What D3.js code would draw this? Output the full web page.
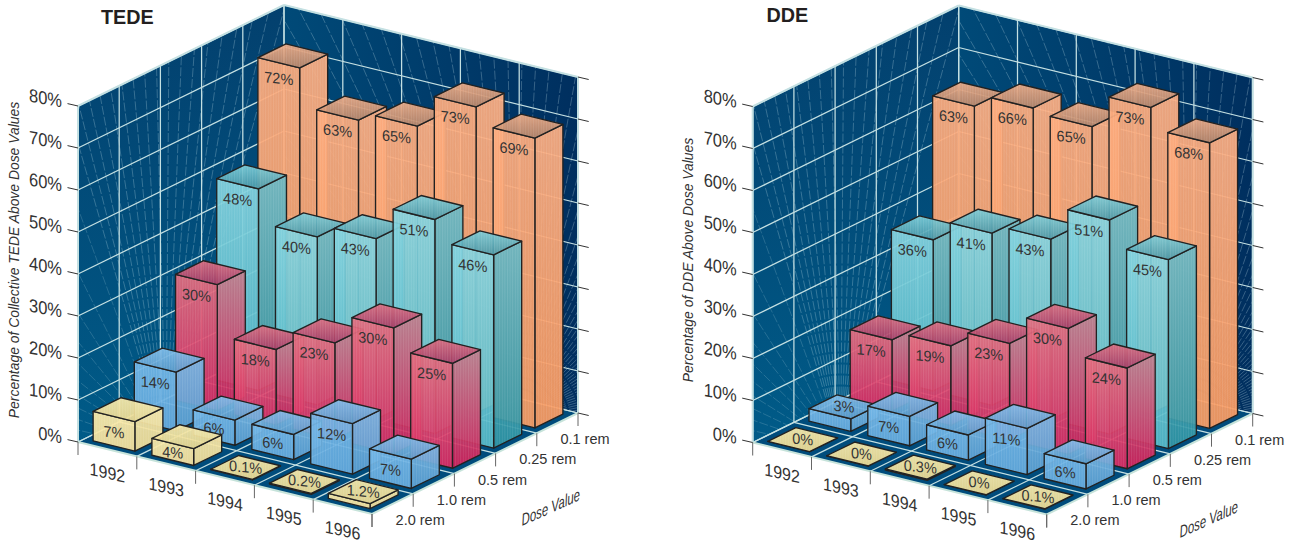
<!DOCTYPE html>
<html>
<head>
<meta charset="utf-8">
<script src="https://cdn.jsdelivr.net/npm/d3@7"></script>
<style>
  body { margin: 0; background: #fff; }
  text { font-family: "Liberation Sans", Arial, sans-serif; fill: #333; }
</style>
</head>
<body>
<div id="chart"></div>
<script>
const years = ["1992", "1993", "1994", "1995", "1996"];
// front of the floor to the back
const doses = ["2.0 rem", "1.0 rem", "0.5 rem", "0.25 rem", "0.1 rem"];
const valueTicks = [0, 10, 20, 30, 40, 50, 60, 70, 80];

const tedeRem20 = [7, 4, 0.1, 0.2, 1.2];
const tedeRem10 = [14, 6, 6, 12, 7];
const tedeRem05 = [30, 18, 23, 30, 25];
const tedeRem025 = [48, 40, 43, 51, 46];
const tedeRem01 = [72, 63, 65, 73, 69];

const ddeRem20 = [0, 0, 0.3, 0, 0.1];
const ddeRem10 = [3, 7, 6, 11, 6];
const ddeRem05 = [17, 19, 23, 30, 24];
const ddeRem025 = [36, 41, 43, 51, 45];
const ddeRem01 = [63, 66, 65, 73, 68];

const tedeRows = [tedeRem20, tedeRem10, tedeRem05, tedeRem025, tedeRem01];
const ddeRows = [ddeRem20, ddeRem10, ddeRem05, ddeRem025, ddeRem01];

const yearVec = [58.8, 14.4];
const doseVec = [41.2, -20.2];

const colors = [
  { name: "yellow", front: ["#fbeaa8", "#f6e09a"], side: ["#f6e5a4", "#f1dd96"], top: ["#f8e9a8", "#ebd98f"] },
  { name: "blue", front: ["#70b5e6", "#62a9dd"], side: ["#74b3e0", "#589ed1"], top: ["#7dbcea", "#5b9ccc"] },
  { name: "red", front: ["#e06b7c", "#d8265f"], side: ["#bc7c8a", "#d21d57"], top: ["#dc6a7e", "#a83a64"] },
  { name: "teal", front: ["#82d2de", "#52b8c6"], side: ["#68b6c2", "#2c93a3"], top: ["#79ccd8", "#4798a8"] },
  { name: "orange", front: ["#fcaa7c", "#f79a60"], side: ["#fbac80", "#f8985e"], top: ["#eeaa84", "#b98568"] },
];

const svg = d3.select("#chart").append("svg").attr("width", 1294).attr("height", 544);
const defs = svg.append("defs");

function addGradient(id, c0, c1, x2, y2) {
  const g = defs.append("linearGradient").attr("id", id)
    .attr("x1", 0).attr("y1", 0).attr("x2", x2).attr("y2", y2);
  g.append("stop").attr("offset", "0%").attr("stop-color", c0);
  g.append("stop").attr("offset", "100%").attr("stop-color", c1);
}
colors.forEach(function (c) {
  addGradient(c.name + "-front", c.front[0], c.front[1], 0, 1);
  addGradient(c.name + "-side", c.side[0], c.side[1], 0, 1);
  addGradient(c.name + "-top", c.top[0], c.top[1], 0, 1);
});
addGradient("wall-left", "#03406e", "#005b88", 0, 1);
addGradient("wall-right", "#004a78", "#002f5f", 1, 0);

// the fine line texture on the bar faces
defs.append("pattern").attr("id", "hatch").attr("width", 2.6).attr("height", 6)
  .attr("patternUnits", "userSpaceOnUse")
  .append("rect").attr("width", 1).attr("height", 6).attr("fill", "#fff").attr("fill-opacity", 0.1);

function skewed(k, sy, x, y) {
  return "matrix(1," + k + ",0," + sy + "," + x + "," + y + ")";
}

function drawPanel(opts) {
  const g = svg.append("g");
  const yearBand = d3.scaleBand().domain(years).range([0, 5]).paddingInner(0.29).paddingOuter(0.145);
  const doseBand = d3.scaleBand().domain(doses).range([0, 5]).paddingInner(0.32).paddingOuter(0.16);
  const value = d3.scaleLinear().domain([0, 80]).range([0, 336]);
  const line = d3.line();

  function project(u, v, h) {
    return [
      opts.x0 + yearVec[0] * u + doseVec[0] * v,
      opts.y0 + yearVec[1] * u + doseVec[1] * v - h,
    ];
  }
  function poly(points) {
    return line(points) + "Z";
  }

  const top = value(80);
  const clipLeft = opts.id + "-clip-left";
  const clipRight = opts.id + "-clip-right";
  const leftWall = [project(0, 0, 0), project(0, 5, 0), project(0, 5, top), project(0, 0, top)];
  const rightWall = [project(0, 5, 0), project(5, 5, 0), project(5, 5, top), project(0, 5, top)];
  const floor = [project(0, 0, 0), project(5, 0, 0), project(5, 5, 0), project(0, 5, 0)];

  defs.append("clipPath").attr("id", clipLeft).append("path").attr("d", poly(leftWall));
  defs.append("clipPath").attr("id", clipRight).append("path").attr("d", poly(rightWall));

  g.append("path").attr("d", poly(leftWall)).attr("fill", "url(#wall-left)");
  g.append("path").attr("d", poly(rightWall)).attr("fill", "url(#wall-right)");
  g.append("path").attr("d", poly(floor)).attr("fill", "#004c7c");

  // faint fan of lines across the walls
  function fan(clip, cx, cy, a0, a1, n, alpha) {
    g.append("g").attr("clip-path", "url(#" + clip + ")")
      .selectAll("line").data(d3.range(n)).enter().append("line")
      .attr("x1", cx).attr("y1", cy)
      .attr("x2", function (i) { return cx + 640 * Math.cos(a0 + (a1 - a0) * i / (n - 1)); })
      .attr("y2", function (i) { return cy + 640 * Math.sin(a0 + (a1 - a0) * i / (n - 1)); })
      .attr("stroke", "#b9d8e2").attr("stroke-opacity", alpha).attr("stroke-width", 0.7)
      .attr("stroke-dasharray", "9 2");
  }
  const deg = Math.PI / 180;
  fan(clipLeft, opts.x0 + 88, opts.y0 + 8, 254 * deg, 285 * deg, 18, 0.42);
  fan(clipLeft, opts.x0 + 88, opts.y0 + 8, 180 * deg, 250 * deg, 12, 0.3);
  fan(clipRight, opts.x0 + 437, opts.y0 - 22, 180 * deg, 360 * deg, 82, 0.42);

  const gridColor = "#c4e0e2";
  function gridLine(a, b, w) {
    g.append("path").attr("d", line([a, b])).attr("fill", "none")
      .attr("stroke", gridColor).attr("stroke-width", w || 1.25);
  }
  d3.range(0, 6).forEach(function (k) {
    if (k < 5) gridLine(project(k, 0, 0), project(k, 5, 0));
    gridLine(project(k, 5, 0), project(k, 5, top));
    if (k > 0) gridLine(project(0, k, 0), project(5, k, 0));
    gridLine(project(0, k, 0), project(0, k, top));
  });
  valueTicks.forEach(function (t) {
    gridLine(project(0, 0, value(t)), project(0, 5, value(t)));
    gridLine(project(0, 5, value(t)), project(5, 5, value(t)));
  });

  // pale rim of the walls and floor
  const rim = "#c6e3da";
  gridLine(project(0, 0, 0), project(0, 0, top), 2);
  gridLine(project(0, 0, top), project(0, 5, top), 2);
  gridLine(project(0, 5, top), project(5, 5, top), 2);
  gridLine(project(5, 5, top), project(5, 5, 0), 2);
  g.append("path").attr("d", line([project(0, 0, 0), project(5, 0, 0), project(5, 5, 0)]))
    .attr("fill", "none").attr("stroke", rim).attr("stroke-width", 2);

  // value ticks on both walls
  valueTicks.forEach(function (t) {
    const a = project(0, 0, value(t));
    const b = project(5, 5, value(t));
    g.append("line").attr("x1", a[0] - 10.5).attr("y1", a[1] - 2.4).attr("x2", a[0]).attr("y2", a[1])
      .attr("stroke", "#333").attr("stroke-width", 1);
    g.append("line").attr("x1", b[0]).attr("y1", b[1]).attr("x2", b[0] + 10.7).attr("y2", b[1] + 2.5)
      .attr("stroke", "#333").attr("stroke-width", 1);
    g.append("text").attr("text-anchor", "end").attr("font-size", 16.5)
      .attr("transform", skewed(0.18, 1.12, a[0] - 16, a[1] + 1.5))
      .text(t + "%");
  });

  // floor ticks
  d3.range(0, 6).forEach(function (k) {
    const a = project(k, 0, 0);
    const b = project(5, k, 0);
    g.append("line").attr("x1", a[0]).attr("y1", a[1]).attr("x2", a[0]).attr("y2", a[1] + 13)
      .attr("stroke", "#666").attr("stroke-width", 1);
    g.append("line").attr("x1", b[0]).attr("y1", b[1]).attr("x2", b[0]).attr("y2", b[1] + 13)
      .attr("stroke", "#666").attr("stroke-width", 1);
  });

  years.forEach(function (y, i) {
    const p = project(i + 0.5, 0, 0);
    g.append("text").attr("text-anchor", "middle").attr("font-size", 16)
      .attr("transform", skewed(0.22, 1.1, p[0], p[1] + 29.5))
      .text(y);
  });
  doses.forEach(function (d, i) {
    const p = project(5, i + 0.5, 0);
    g.append("text").attr("x", p[0] + 3).attr("y", p[1] + 21).attr("font-size", 14.5).text(d);
  });

  // bars, back row first
  for (let r = doses.length - 1; r >= 0; r--) {
    const c = colors[r];
    const v0 = doseBand(doses[r]);
    const v1 = v0 + doseBand.bandwidth();
    for (let i = 0; i < years.length; i++) {
      const val = opts.rows[r][i];
      const h = value(val);
      const u0 = yearBand(years[i]);
      const u1 = u0 + yearBand.bandwidth();
      const bar = g.append("g");
      const faces = [
        { fill: c.name + "-side", pts: [project(u1, v0, 0), project(u1, v1, 0), project(u1, v1, h), project(u1, v0, h)] },
        { fill: c.name + "-front", pts: [project(u0, v0, 0), project(u1, v0, 0), project(u1, v0, h), project(u0, v0, h)] },
        { fill: c.name + "-top", pts: [project(u0, v0, h), project(u1, v0, h), project(u1, v1, h), project(u0, v1, h)] },
      ];
      faces.forEach(function (f) {
        bar.append("path").attr("d", poly(f.pts)).attr("fill", "url(#" + f.fill + ")").attr("fill-opacity", 0.93);
        bar.append("path").attr("d", poly(f.pts)).attr("fill", "url(#hatch)")
          .attr("stroke", "#222").attr("stroke-width", 1.35).attr("stroke-linejoin", "round");
      });

      // small bars carry the label on the top face
      const um = (u0 + u1) / 2;
      let p;
      if (val <= 3) {
        p = project(um, (v0 + v1) / 2, h);
        p = [p[0], p[1] + 5];
      } else {
        p = project(um, v0, h);
        p = [p[0], p[1] + Math.min(16, h * 0.55) + 5];
      }
      bar.append("text").attr("text-anchor", "middle").attr("font-size", 14.5)
        .attr("transform", skewed(0.1, 1.05, p[0], p[1]))
        .text(val + "%");
    }
  }

  g.append("text").attr("x", opts.titleX).attr("y", opts.titleY)
    .attr("font-size", 19.8).attr("font-weight", "bold").style("fill", "#231f20").text(opts.title);

  g.append("text").attr("text-anchor", "middle").attr("font-size", 13.9).attr("font-style", "italic")
    .attr("transform", "translate(" + opts.labelX + "," + opts.labelY + ") rotate(-90)")
    .text(opts.yLabel);

  g.append("text").attr("font-size", 16.5).attr("font-style", "italic")
    .attr("transform", "matrix(0.69,-0.31,0.08,1," + opts.doseX + "," + opts.doseY + ")")
    .text("Dose Value");
}

drawPanel({
  id: "tede", rows: tedeRows, x0: 78, y0: 442,
  title: "TEDE", titleX: 101, titleY: 24,
  yLabel: "Percentage of Collective TEDE Above Dose Values", labelX: 18.5, labelY: 260,
  doseX: 522, doseY: 526,
});
drawPanel({
  id: "dde", rows: ddeRows, x0: 752.7, y0: 442.5,
  title: "DDE", titleX: 766.5, titleY: 22,
  yLabel: "Percentage of DDE Above Dose Values", labelX: 692.5, labelY: 260,
  doseX: 1180, doseY: 538,
});
</script>
</body>
</html>
